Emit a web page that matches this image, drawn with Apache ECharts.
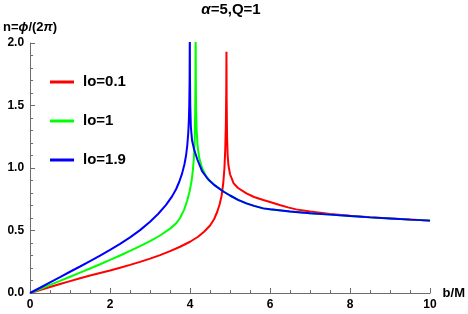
<!DOCTYPE html>
<html>
<head>
<meta charset="utf-8">
<script src="https://cdn.jsdelivr.net/npm/echarts@6/dist/echarts.min.js"></script>
<style>html,body{margin:0;padding:0;background:#fff}#c{width:468px;height:314px}</style>
</head>
<body>
<div id="c"></div>
<script>
var seriesNames = ['lo=0.1', 'lo=1', 'lo=1.9'];
var seriesColors = ['#ff0000', '#00ff00', '#0000ff'];

var redB = [0, 0.25, 0.5, 0.75, 1, 1.25, 1.5, 1.75, 2, 2.25, 2.5, 2.75, 3, 3.25, 3.5, 3.75, 4, 4.2, 4.35, 4.5, 4.6, 4.68, 4.74, 4.79, 4.83, 4.86, 4.88, 4.895, 4.905, 4.91,
            4.915, 4.925, 4.94, 4.96, 5.0, 5.09, 5.2, 5.41, 5.6, 5.83, 6.0, 6.24, 6.45, 6.65, 7.0, 7.5, 8, 8.5, 9, 9.5, 10];
var redN = [0, 0.024, 0.048, 0.072, 0.095, 0.118, 0.14, 0.16, 0.18, 0.202, 0.225, 0.249, 0.275, 0.303, 0.335, 0.37, 0.41, 0.45, 0.49, 0.54, 0.59, 0.65, 0.71, 0.78, 0.88, 1.0, 1.15, 1.35, 1.62, 1.93,
            1.55, 1.25, 1.1, 1.02, 0.95, 0.877, 0.84, 0.797, 0.768, 0.744, 0.728, 0.704, 0.685, 0.669, 0.652, 0.633, 0.619, 0.607, 0.597, 0.588, 0.579];

var greenB = [0, 0.25, 0.5, 0.75, 1, 1.25, 1.5, 1.75, 2, 2.25, 2.5, 2.75, 3, 3.25, 3.5, 3.65, 3.75, 3.85, 3.93, 3.99, 4.04, 4.07, 4.095, 4.11, 4.12, 4.128, 4.134, 4.14,
              4.145, 4.152, 4.165, 4.19, 4.23, 4.3, 4.4, 4.5, 4.63, 4.8, 5.0, 5.2, 5.41, 5.6, 5.83, 6.0, 6.5, 7, 7.5, 8, 8.5, 9, 9.5, 10];
var greenN = [0, 0.032, 0.065, 0.097, 0.13, 0.163, 0.196, 0.23, 0.265, 0.3, 0.337, 0.375, 0.415, 0.46, 0.515, 0.557, 0.6, 0.665, 0.74, 0.815, 0.9, 0.98, 1.08, 1.18, 1.3, 1.45, 1.65, 2.1,
              1.7, 1.45, 1.3, 1.17, 1.08, 1.0, 0.935, 0.895, 0.86, 0.82, 0.78, 0.745, 0.717, 0.697, 0.677, 0.67, 0.652, 0.638, 0.627, 0.616, 0.605, 0.596, 0.587, 0.579];

var blueB = [0, 0.25, 0.5, 0.75, 1, 1.25, 1.5, 1.75, 2, 2.25, 2.5, 2.75, 3, 3.2, 3.4, 3.55, 3.65, 3.73, 3.8, 3.86, 3.9, 3.93, 3.955, 3.97, 3.98, 3.988, 3.994,
             3.998, 4.005, 4.02, 4.05, 4.1, 4.18, 4.3, 4.45, 4.6, 4.84, 5.0, 5.2, 5.41, 5.6, 5.83, 6.0, 6.5, 7, 7.5, 8, 8.5, 9, 9.5, 10];
var blueN = [0, 0.042, 0.085, 0.127, 0.17, 0.212, 0.255, 0.299, 0.345, 0.393, 0.445, 0.503, 0.57, 0.632, 0.705, 0.773, 0.83, 0.89, 0.955, 1.03, 1.1, 1.18, 1.28, 1.38, 1.5, 1.68, 2.1,
             1.75, 1.5, 1.33, 1.22, 1.15, 1.07, 0.975, 0.91, 0.865, 0.81, 0.78, 0.745, 0.717, 0.697, 0.677, 0.67, 0.652, 0.638, 0.627, 0.616, 0.605, 0.596, 0.587, 0.579];

var titleText = '{i|α}=5,Q=1';
var yAxisName = 'n={i|ϕ}/(2{i|π})';
var xAxisName = 'b/M';

function zip(b, n) { return b.map(function (v, i) { return [v, n[i]]; }); }
var datasets = [zip(redB, redN), zip(greenB, greenN), zip(blueB, blueN)];

var FONT = 'Liberation Sans, Arial, sans-serif';
var axisGrey = '#6e6e6e';

var chart = echarts.init(document.getElementById('c'), null, {renderer: 'canvas'});
chart.setOption({
  animation: false,
  backgroundColor: '#fff',
  title: {
    text: titleText,
    left: 231, top: 2, padding: 0,
    textAlign: 'center',
    textStyle: {
      fontFamily: FONT, fontSize: 15, fontWeight: 'bold', color: '#000',
      rich: {i: {fontFamily: FONT, fontSize: 15, fontWeight: 'bold', fontStyle: 'italic', color: '#000'}}
    }
  },
  legend: {
    orient: 'vertical',
    left: 50, top: 74, padding: 0,
    itemWidth: 24, itemHeight: 3,
    itemGap: 23,
    icon: 'rect',
    data: seriesNames,
    textStyle: {fontFamily: FONT, fontSize: 15, fontWeight: 'bold', color: '#000', lineHeight: 16, padding: [0, 0, 0, 4]}
  },
  grid: {left: 29, right: 34, top: 43, bottom: 21, containLabel: false},
  xAxis: {
    type: 'value', min: 0, max: 10, interval: 2,
    name: xAxisName, nameLocation: 'end', nameGap: 11,
    nameTextStyle: {fontFamily: FONT, fontSize: 13, fontWeight: 'bold', color: '#000'},
    axisLine: {show: true, onZero: false, lineStyle: {color: axisGrey, width: 1}},
    axisTick: {show: true, inside: true, length: 5, lineStyle: {color: axisGrey}},
    minorTick: {show: true, splitNumber: 4, length: 3, lineStyle: {color: axisGrey}},
    axisLabel: {fontFamily: FONT, fontSize: 12, fontWeight: 'bold', color: '#000', margin: 6},
    splitLine: {show: false}
  },
  yAxis: {
    type: 'value', min: 0, max: 2, interval: 0.5,
    name: yAxisName, nameLocation: 'end', nameGap: 9,
    nameTextStyle: {
      fontFamily: FONT, fontSize: 13, fontWeight: 'bold', color: '#000', align: 'center',
      rich: {i: {fontFamily: FONT, fontSize: 13, fontWeight: 'bold', fontStyle: 'italic', color: '#000'}}
    },
    axisLine: {show: true, onZero: false, lineStyle: {color: axisGrey, width: 1}},
    axisTick: {show: true, inside: true, length: 5, lineStyle: {color: axisGrey}},
    minorTick: {show: true, splitNumber: 5, length: 3, lineStyle: {color: axisGrey}},
    axisLabel: {fontFamily: FONT, fontSize: 12, fontWeight: 'bold', color: '#000', margin: 6,
      formatter: function (v) { return v.toFixed(1); }},
    splitLine: {show: false}
  },
  series: seriesNames.map(function (name, k) {
    return {
      name: name, type: 'line', data: datasets[k],
      showSymbol: false, symbol: 'none', clip: true,
      smooth: false,
      color: seriesColors[k],
      lineStyle: {color: seriesColors[k], width: 2}
    };
  })
});
</script>
</body>
</html>
